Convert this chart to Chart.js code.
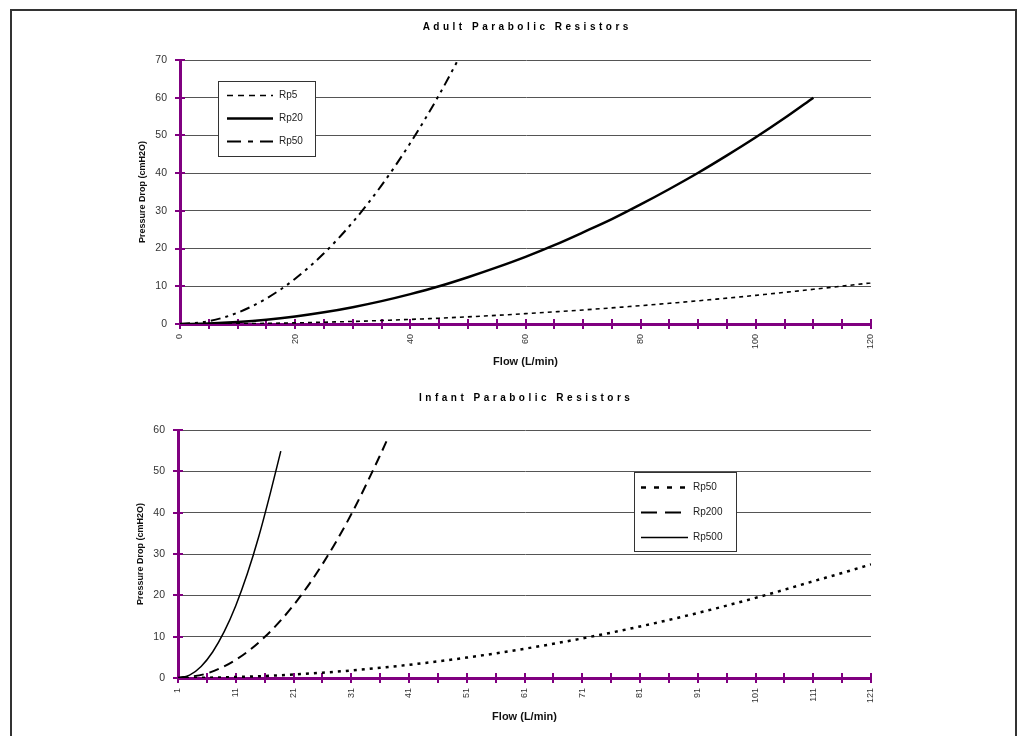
<!DOCTYPE html>
<html lang="en">
<head>
    <meta charset="UTF-8">
    <title>Parabolic Resistors</title>
    <script src="https://cdn.jsdelivr.net/npm/chart.js"></script>
    <style>
        body {
            margin: 0;
            background: #fff;
        }
        #page {
            position: relative;
            width: 1021px;
            height: 736px;
            overflow: hidden;
            background: #fff;
        }
        #frame {
            position: absolute;
            left: 10px;
            top: 9px;
            width: 1007px;
            height: 760px;
            border: 2px solid #333;
            box-sizing: border-box;
        }
        canvas {
            position: absolute;
            left: 0;
        }
        #adult { top: 0; }
        #infant { top: 375px; }
    </style>
</head>
<body>
<div id="page">
    <div id="frame"></div>
    <canvas id="adult" width="1021" height="375"></canvas>
    <canvas id="infant" width="1021" height="361"></canvas>
</div>

<script>
    // adult chart (flow in L/min, pressure drop in cmH2O)
    const adultFlow = [0, 5, 10, 15, 20, 25, 30, 35, 40, 45, 50, 55, 60, 65, 70, 75, 80, 85, 90, 95, 100, 105, 110, 115, 120];
    const adultRp5 = [0, 0.02, 0.08, 0.17, 0.3, 0.48, 0.68, 0.93, 1.22, 1.54, 1.9, 2.3, 2.74, 3.21, 3.72, 4.28, 4.86, 5.49, 6.16, 6.86, 7.6, 8.38, 9.2, 10.05, 10.9];
    const adultRp20 = [0, 0.12, 0.5, 1.11, 1.98, 3.09, 4.46, 6.06, 7.92, 10.0, 12.4, 15.0, 17.8, 20.9, 24.3, 27.8, 31.7, 35.8, 40.1, 44.7, 49.5, 54.6, 60.0];
    const adultRp50 = [0, 0.75, 3, 6.75, 12, 18.75, 27, 36.75, 48, 60.75, 75];
    const adultTickMarks = [0, 5, 10, 15, 20, 25, 30, 35, 40, 45, 50, 55, 60, 65, 70, 75, 80, 85, 90, 95, 100, 105, 110, 115, 120];
    const adultTickLabels = [0, 20, 40, 60, 80, 100, 120];

    // infant chart
    const infantFlow = [1, 6, 11, 16, 21, 26, 31, 36, 41, 46, 51, 56, 61, 66, 71, 76, 81, 86, 91, 96, 101, 106, 111, 116, 121];
    const infantRp50 = [0, 0.07, 0.23, 0.49, 0.84, 1.28, 1.83, 2.46, 3.19, 4.02, 4.94, 5.96, 7.07, 8.28, 9.58, 10.97, 12.47, 14.05, 15.73, 17.51, 19.38, 21.35, 23.41, 25.4, 27.5];
    const infantRp200Flow = [1, 6, 11, 16, 21, 26, 31, 36, 37.4];
    const infantRp200 = [0, 1.1, 4.4, 9.9, 17.6, 27.5, 39.6, 53.9, 58.2];
    const infantRp500Flow = [1, 3, 5, 7, 9, 11, 13, 15, 17, 18.8];
    const infantRp500 = [0, 0.7, 2.8, 6.3, 11.2, 17.5, 25.2, 34.3, 44.8, 54.9];
    const infantTickMarks = [1, 6, 11, 16, 21, 26, 31, 36, 41, 46, 51, 56, 61, 66, 71, 76, 81, 86, 91, 96, 101, 106, 111, 116, 121];
    const infantTickLabels = [1, 11, 21, 31, 41, 51, 61, 71, 81, 91, 101, 111, 121];

    const purple = '#800080';
    const fontFam = '"Liberation Sans", Arial, sans-serif';

    function pts(xs, ys) {
        return ys.map((y, i) => ({ x: xs[i], y: y }));
    }

    // purple tick marks crossing the axes
    const crossTicks = {
        id: 'crossTicks',
        beforeDatasetsDraw(chart) {
            const { ctx, chartArea } = chart;
            const x = chart.scales.x, y = chart.scales.y;
            ctx.save();
            ctx.strokeStyle = purple;
            ctx.lineWidth = 2;
            ctx.beginPath();
            x.ticks.forEach(t => {
                const px = Math.round(x.getPixelForValue(t.value));
                ctx.moveTo(px, chartArea.bottom - 5);
                ctx.lineTo(px, chartArea.bottom + 5);
            });
            y.ticks.forEach(t => {
                const py = Math.round(y.getPixelForValue(t.value));
                ctx.moveTo(chartArea.left - 5, py);
                ctx.lineTo(chartArea.left + 5, py);
            });
            ctx.stroke();
            ctx.restore();
        }
    };

    // boxed legend inside the plot
    const boxLegend = {
        id: 'boxLegend',
        afterDatasetsDraw(chart, args, opts) {
            const { ctx, chartArea } = chart;
            const left = Math.round(chartArea.left + opts.x);
            const top = Math.round(chartArea.top + opts.y);
            ctx.save();
            ctx.fillStyle = '#fff';
            ctx.fillRect(left, top, opts.width, opts.height);
            ctx.strokeStyle = '#333';
            ctx.lineWidth = 1;
            ctx.strokeRect(left + 0.5, top + 0.5, opts.width, opts.height);
            ctx.font = '10px ' + fontFam;
            ctx.textBaseline = 'middle';
            chart.data.datasets.forEach((ds, i) => {
                const cy = Math.round(top + opts.firstRow + i * opts.rowGap) + 0.5;
                ctx.setLineDash(opts.dashes[i]);
                ctx.lineWidth = ds.borderWidth;
                ctx.strokeStyle = ds.borderColor;
                ctx.beginPath();
                ctx.moveTo(left + opts.lineStart, cy);
                ctx.lineTo(left + opts.lineEnd, cy);
                ctx.stroke();
                ctx.setLineDash([]);
                ctx.fillStyle = '#222';
                ctx.fillText(ds.label, left + opts.textX, cy);
            });
            ctx.restore();
        }
    };

    // chart title with the wide letter spacing of the original
    const spacedTitle = {
        id: 'spacedTitle',
        afterDraw(chart, args, opts) {
            const { ctx, chartArea } = chart;
            ctx.save();
            ctx.font = 'bold 10px ' + fontFam;
            if ('letterSpacing' in ctx) ctx.letterSpacing = opts.spacing + 'px';
            ctx.textAlign = 'center';
            ctx.textBaseline = 'middle';
            ctx.fillStyle = '#000';
            ctx.fillText(opts.text, (chartArea.left + chartArea.right) / 2 + opts.spacing / 2, chartArea.top - opts.offset);
            ctx.restore();
        }
    };

    function makeOptions(cfg) {
        return {
            responsive: false,
            animation: false,
            layout: { padding: cfg.padding },
            elements: { point: { radius: 0 } },
            plugins: {
                legend: { display: false },
                tooltip: { enabled: false },
                spacedTitle: { text: cfg.title, offset: cfg.titleOffset, spacing: 3.5 },
                boxLegend: cfg.legend
            },
            scales: {
                x: {
                    type: 'linear',
                    min: cfg.xMin,
                    max: cfg.xMax,
                    afterBuildTicks: s => { s.ticks = cfg.tickMarks.map(v => ({ value: v })); },
                    afterFit: s => { s.height = cfg.xHeight; },
                    grid: { drawOnChartArea: false, drawTicks: false },
                    border: { color: purple, width: 3 },
                    ticks: {
                        autoSkip: false,
                        minRotation: 90,
                        maxRotation: 90,
                        padding: 10,
                        color: '#333',
                        font: { family: fontFam, size: 9 },
                        callback: v => cfg.tickLabels.includes(v) ? String(v) : ''
                    },
                    title: {
                        display: true,
                        text: 'Flow (L/min)',
                        color: '#111',
                        font: { family: fontFam, size: 11, weight: 'bold' },
                        padding: { top: 0, bottom: cfg.xTitlePad }
                    }
                },
                y: {
                    min: 0,
                    max: cfg.yMax,
                    afterFit: s => { s.width = 50; },
                    grid: {
                        drawTicks: false,
                        color: c => c.tick && c.tick.value === 0 ? 'rgba(0,0,0,0)' : '#555',
                        lineWidth: 1
                    },
                    border: { color: purple, width: 3 },
                    ticks: {
                        stepSize: 10,
                        padding: 13,
                        color: '#333',
                        font: { family: fontFam, size: 10.5 }
                    },
                    title: {
                        display: true,
                        text: 'Pressure Drop (cmH2O)',
                        color: '#111',
                        font: { family: fontFam, size: 9, weight: 'bold' },
                        padding: { top: 7, bottom: 0 }
                    }
                }
            }
        };
    }

    new Chart(document.getElementById('adult'), {
        type: 'line',
        data: {
            datasets: [
                { label: 'Rp5', data: pts(adultFlow, adultRp5), borderColor: '#000', borderWidth: 1.6, borderDash: [4, 4], cubicInterpolationMode: 'monotone' },
                { label: 'Rp20', data: pts(adultFlow, adultRp20), borderColor: '#000', borderWidth: 2.5, cubicInterpolationMode: 'monotone' },
                { label: 'Rp50', data: pts(adultFlow, adultRp50), borderColor: '#000', borderWidth: 2, borderDash: [10, 5, 3, 5, 3, 5], cubicInterpolationMode: 'monotone' }
            ]
        },
        options: makeOptions({
            title: 'Adult Parabolic Resistors',
            titleOffset: 33,
            padding: { left: 130, right: 150, top: 60, bottom: 1 },
            xMin: 0, xMax: 120, yMax: 70,
            tickMarks: adultTickMarks,
            tickLabels: adultTickLabels,
            xHeight: 50,
            xTitlePad: 5,
            legend: {
                x: 38, y: 21, width: 97, height: 75,
                firstRow: 14, rowGap: 23, lineStart: 9, lineEnd: 55, textX: 61,
                dashes: [[6, 5], [], [14, 7, 5, 7]]
            }
        }),
        plugins: [crossTicks, boxLegend, spacedTitle]
    });

    new Chart(document.getElementById('infant'), {
        type: 'line',
        data: {
            datasets: [
                { label: 'Rp50', data: pts(infantFlow, infantRp50), borderColor: '#000', borderWidth: 2.5, borderDash: [3, 5], cubicInterpolationMode: 'monotone' },
                { label: 'Rp200', data: pts(infantRp200Flow, infantRp200), borderColor: '#000', borderWidth: 2, borderDash: [10, 6], cubicInterpolationMode: 'monotone' },
                { label: 'Rp500', data: pts(infantRp500Flow, infantRp500), borderColor: '#000', borderWidth: 1.5, cubicInterpolationMode: 'monotone' }
            ]
        },
        options: makeOptions({
            title: 'Infant Parabolic Resistors',
            titleOffset: 32,
            padding: { left: 128, right: 150, top: 55, bottom: 0 },
            xMin: 1, xMax: 121, yMax: 60,
            tickMarks: infantTickMarks,
            tickLabels: infantTickLabels,
            xHeight: 58,
            xTitlePad: 12,
            legend: {
                x: 456, y: 42, width: 102, height: 79,
                firstRow: 15, rowGap: 25, lineStart: 7, lineEnd: 54, textX: 59,
                dashes: [[5, 8], [16, 8], []]
            }
        }),
        plugins: [crossTicks, boxLegend, spacedTitle]
    });
</script>
</body>
</html>
